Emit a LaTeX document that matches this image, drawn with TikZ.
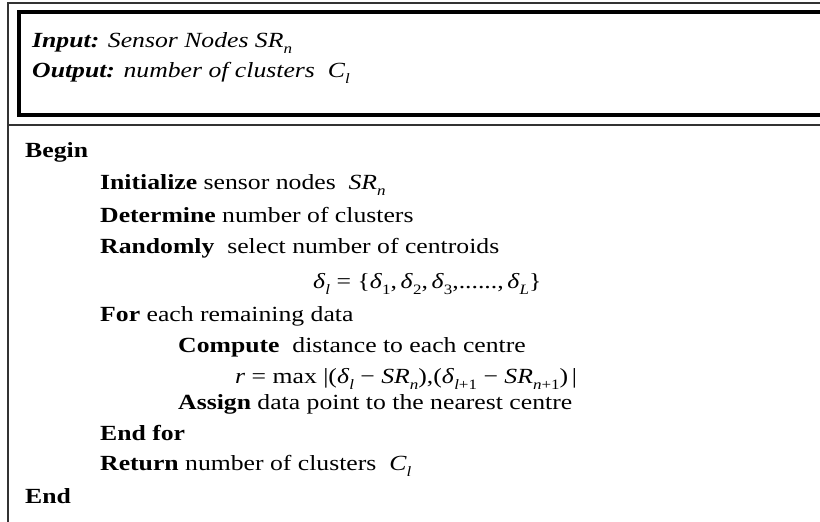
\documentclass[tikz,border=0pt]{standalone}
\usepackage{fontspec}
\setmainfont{Liberation Serif}[FakeStretch=1.19]
\newcommand\sbs[1]{\raisebox{-0.28em}{\fontsize{14.3}{14.3}\selectfont #1}}
\newcommand\vi[1]{\textit{#1}}
\begin{document}
\begin{tikzpicture}[x=1pt,y=-1pt,
  txt/.style={anchor=base west,inner sep=0pt,font=\fontsize{21.6}{25}\selectfont},
  thinrule/.style={draw=black!80,line width=1.4pt},
  thickrule/.style={draw=black,line width=4pt}]
\useasboundingbox (0,0) rectangle (820,522);
\fill[white] (0,0) rectangle (820,522);
% frames
\draw[thinrule] (8,523) -- (8,3) -- (821,3);
\draw[thickrule] (825,12) -- (18.7,12) -- (18.7,114.7) -- (825,114.7);
\draw[thinrule] (8,125) -- (821,125);
% header
\node[txt] (input) at (32,47) {\textbf{\textit{Input:}} \textit{Sensor Nodes SR}\sbs{\itshape n}};
\node[txt] (output) at (32,77) {\textbf{\textit{Output:}} \textit{number of clusters}\ \ \textit{C}\sbs{\itshape l}};
% body
\node[txt] (begin) at (25,157) {\textbf{Begin}};
\node[txt] (init) at (100,189) {\textbf{Initialize} sensor nodes\ \ \vi{SR}\sbs{\itshape n}};
\node[txt] (det) at (100,222) {\textbf{Determine} number of clusters};
\node[txt] (rand) at (100,253) {\textbf{Randomly}\ \ select number of centroids};
\node[txt] (delta) at (313,288) {\vi{δ}\sbs{\itshape l} = \{\vi{δ}\sbs{1},\,\vi{δ}\sbs{2},\,\vi{δ}\sbs{3},......,\,\vi{δ}\sbs{\itshape L}\}};
\node[txt] (for) at (100,321) {\textbf{For} each remaining data};
\node[txt] (comp) at (178,352) {\textbf{Compute}\ \ distance to each centre};
\node[txt] (rmax) at (235,383) {\vi{r} = max\ |(\vi{δ}\sbs{\itshape l} − \vi{SR}\sbs{\itshape n}),(\vi{δ}\sbs{\itshape l\upshape +1} − \vi{SR}\sbs{\itshape n\upshape +1})\,|};
\node[txt] (assign) at (178,409) {\textbf{Assign} data point to the nearest centre};
\node[txt] (endfor) at (100,440) {\textbf{End for}};
\node[txt] (ret) at (100,470) {\textbf{Return} number of clusters\ \ \vi{C}\sbs{\itshape l}};
\node[txt] (end) at (25,503) {\textbf{End}};
\end{tikzpicture}
\end{document}
